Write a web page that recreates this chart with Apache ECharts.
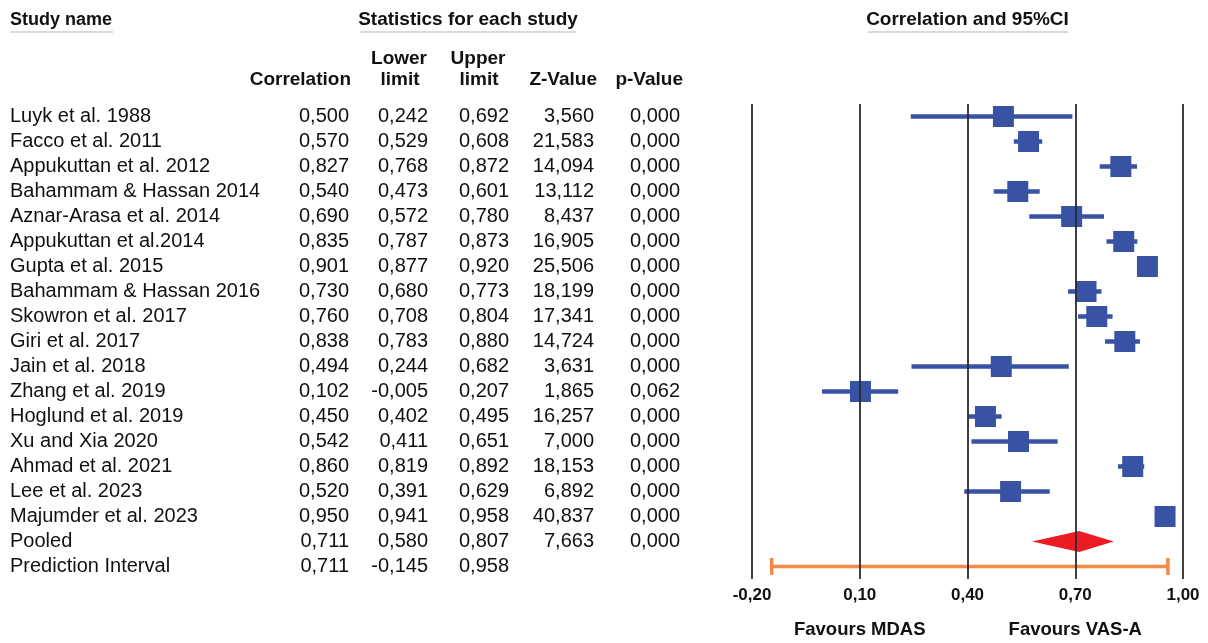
<!DOCTYPE html>
<html>
<head>
<meta charset="utf-8" />
<title>Forest plot</title>
<script src="https://cdn.jsdelivr.net/npm/echarts@6.0.0/dist/echarts.min.js"></script>
<style>html, body { margin: 0; padding: 0; background: #fff; }</style>
</head>
<body>
<div id="main" style="width: 1208px; height: 643px;"></div>
<script type="text/javascript">
// rows of the table (studies, then pooled and prediction interval)
var studies = ['Luyk et al. 1988', 'Facco et al. 2011', 'Appukuttan et al. 2012', 'Bahammam & Hassan 2014',
  'Aznar-Arasa et al. 2014', 'Appukuttan et al.2014', 'Gupta et al. 2015', 'Bahammam & Hassan 2016',
  'Skowron et al. 2017', 'Giri et al. 2017', 'Jain et al. 2018', 'Zhang et al. 2019', 'Hoglund et al. 2019',
  'Xu and Xia 2020', 'Ahmad et al. 2021', 'Lee et al. 2023', 'Majumder et al. 2023', 'Pooled', 'Prediction Interval'];
var corr = [0.500, 0.570, 0.827, 0.540, 0.690, 0.835, 0.901, 0.730, 0.760, 0.838, 0.494, 0.102, 0.450, 0.542, 0.860, 0.520, 0.950, 0.711, 0.711];
var lower = [0.242, 0.529, 0.768, 0.473, 0.572, 0.787, 0.877, 0.680, 0.708, 0.783, 0.244, -0.005, 0.402, 0.411, 0.819, 0.391, 0.941, 0.580, -0.145];
var upper = [0.692, 0.608, 0.872, 0.601, 0.780, 0.873, 0.920, 0.773, 0.804, 0.880, 0.682, 0.207, 0.495, 0.651, 0.892, 0.629, 0.958, 0.807, 0.958];
var zValue = [3.560, 21.583, 14.094, 13.112, 8.437, 16.905, 25.506, 18.199, 17.341, 14.724, 3.631, 1.865, 16.257, 7.000, 18.153, 6.892, 40.837, 7.663, null];
var pValue = [0.000, 0.000, 0.000, 0.000, 0.000, 0.000, 0.000, 0.000, 0.000, 0.000, 0.000, 0.062, 0.000, 0.000, 0.000, 0.000, 0.000, 0.000, null];
var tickValues = [-0.2, 0.1, 0.4, 0.7, 1.0];

var POOLED = 17, PRED = 18;
var font = '"Liberation Sans", Arial, sans-serif';
var gridLeft = 752, gridRight = 25, gridTop = 104, gridBottom = 64;
var blue = '#3953a4', red = '#ec1c24', orange = '#f5894a';

var myChart = echarts.init(document.getElementById('main'));

function fmt(v) { return v == null ? '' : v.toFixed(3).replace('.', ','); }

// each table column is a category axis sharing the rows of the plot
function columnAxis(values, rightEdge, align) {
  return {
    type: 'category', data: studies, inverse: true, position: 'left',
    offset: gridLeft - rightEdge,
    axisLine: { show: false }, axisTick: { show: false }, splitLine: { show: false },
    axisLabel: {
      interval: 0, margin: 0, align: align || 'right', fontSize: 20, color: '#111', fontFamily: font,
      formatter: function (v, i) { return values ? fmt(values[i]) : v; }
    }
  };
}

var studyData = [];
for (var i = 0; i < POOLED; i++) studyData.push([lower[i], upper[i], corr[i], i]);

function header(text, x, y, align, size) {
  return {
    type: 'text', x: x, y: y, silent: true,
    style: { text: text, fill: '#111', font: 'bold ' + (size || 19) + 'px ' + font, align: align, verticalAlign: 'middle' }
  };
}
function underline(x1, x2) {
  return { type: 'line', silent: true, shape: { x1: x1, y1: 32, x2: x2, y2: 32 }, style: { stroke: '#b5b5b5', lineWidth: 1 } };
}

option = {
  animation: false,
  grid: { left: gridLeft, right: gridRight, top: gridTop, bottom: gridBottom },
  xAxis: {
    type: 'value', min: -0.2, max: 1.0,
    axisLine: { show: false }, axisTick: { show: false }, splitLine: { show: false },
    axisLabel: {
      customValues: tickValues, showMinLabel: true, showMaxLabel: true, hideOverlap: false,
      margin: 8, fontSize: 17, fontWeight: 'bold', color: '#111', fontFamily: font,
      formatter: function (v) { return v.toFixed(2).replace('.', ','); }
    }
  },
  yAxis: [
    columnAxis(null, 10, 'left'),
    columnAxis(corr, 349),
    columnAxis(lower, 428),
    columnAxis(upper, 509),
    columnAxis(zValue, 594),
    columnAxis(pValue, 680)
  ],
  series: [
    {
      // vertical reference lines
      type: 'scatter', data: [], z: 1,
      markLine: {
        silent: true, symbol: 'none', label: { show: false },
        lineStyle: { color: '#2b2b2b', width: 1.8, type: 'solid' },
        data: tickValues.map(function (v) { return { xAxis: v }; })
      }
    },
    {
      type: 'custom', yAxisIndex: 0, z: 3, data: studyData, encode: { x: [0, 1, 2], y: 3 },
      renderItem: function (params, api) {
        var lo = api.coord([api.value(0), api.value(3)]);
        var hi = api.coord([api.value(1), api.value(3)]);
        var c = api.coord([api.value(2), api.value(3)]);
        var s = 21;
        return {
          type: 'group', children: [
            { type: 'line', shape: { x1: lo[0], y1: lo[1], x2: hi[0], y2: hi[1] }, style: { stroke: blue, lineWidth: 4.5 } },
            { type: 'rect', shape: { x: c[0] - s / 2, y: c[1] - s / 2, width: s, height: s }, style: { fill: blue } }
          ]
        };
      }
    },
    {
      // pooled estimate diamond
      type: 'custom', yAxisIndex: 0, z: 3, data: [[lower[POOLED], upper[POOLED], corr[POOLED], POOLED]],
      encode: { x: [0, 1, 2], y: 3 },
      renderItem: function (params, api) {
        var lo = api.coord([api.value(0), api.value(3)]);
        var hi = api.coord([api.value(1), api.value(3)]);
        var c = api.coord([api.value(2), api.value(3)]);
        var h = 10.5;
        return {
          type: 'polygon',
          shape: { points: [[lo[0], lo[1]], [c[0], c[1] - h], [hi[0], hi[1]], [c[0], c[1] + h]] },
          style: { fill: red }
        };
      }
    },
    {
      // prediction interval
      type: 'custom', yAxisIndex: 0, z: 3, data: [[lower[PRED], upper[PRED], PRED]],
      encode: { x: [0, 1], y: 2 },
      renderItem: function (params, api) {
        var lo = api.coord([api.value(0), api.value(2)]);
        var hi = api.coord([api.value(1), api.value(2)]);
        var h = 8.5;
        var st = { stroke: orange, lineWidth: 3.5 };
        return {
          type: 'group', children: [
            { type: 'line', shape: { x1: lo[0], y1: lo[1], x2: hi[0], y2: hi[1] }, style: st },
            { type: 'line', shape: { x1: lo[0], y1: lo[1] - h, x2: lo[0], y2: lo[1] + h }, style: st },
            { type: 'line', shape: { x1: hi[0], y1: hi[1] - h, x2: hi[0], y2: hi[1] + h }, style: st }
          ]
        };
      }
    }
  ]
};

myChart.setOption(option);

var xMdas = myChart.convertToPixel({ xAxisIndex: 0 }, 0.1);
var xVas = myChart.convertToPixel({ xAxisIndex: 0 }, 0.7);
var xMid = myChart.convertToPixel({ xAxisIndex: 0 }, 0.4);

myChart.setOption({
  graphic: [
    header('Study name', 10, 20, 'left', 18),
    underline(10, 113),
    header('Statistics for each study', 468, 20, 'center'),
    underline(360, 576),
    header('Correlation and 95%CI', xMid, 20, 'center'),
    underline(868, 1068),
    header('Correlation', 351, 80, 'right'),
    header('Lower', 399, 59, 'center'),
    header('limit', 400, 80, 'center'),
    header('Upper', 478, 59, 'center'),
    header('limit', 479, 80, 'center'),
    header('Z-Value', 597, 80, 'right'),
    header('p-Value', 683, 80, 'right'),
    header('Favours MDAS', xMdas, 630, 'center', 18.5),
    header('Favours VAS-A', xVas, 630, 'center', 18.5)
  ]
});
</script>
</body>
</html>
